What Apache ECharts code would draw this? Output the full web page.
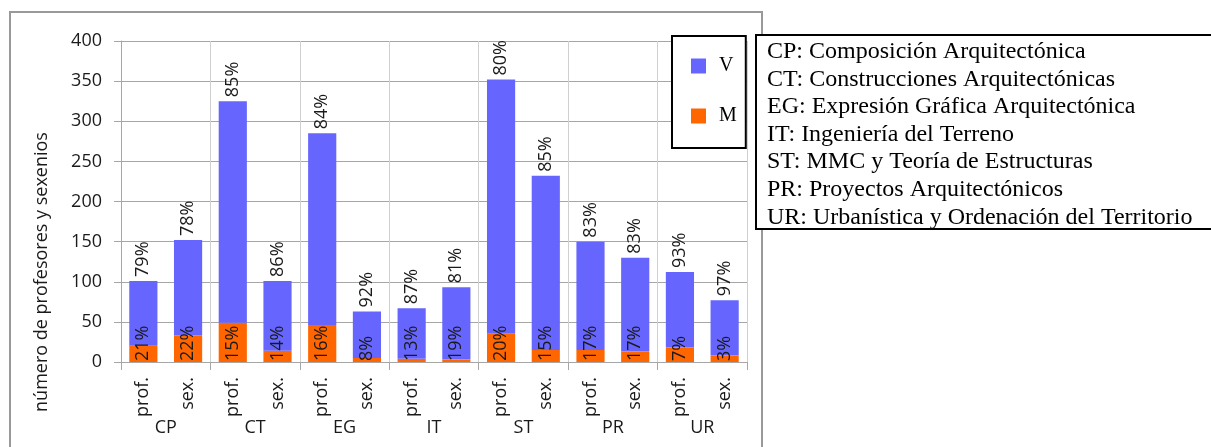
<!DOCTYPE html>
<html>
<head>
<meta charset="utf-8">
<script src="https://cdn.jsdelivr.net/npm/echarts@6/dist/echarts.min.js"></script>
<style>
  html, body { margin: 0; padding: 0; background: #fff; }
  #chart { width: 1211px; height: 447px; }
</style>
</head>
<body>
<div id="chart"></div>
<script>
// ---- data ----
const groups = ['CP', 'CT', 'EG', 'IT', 'ST', 'PR', 'UR'];
const subLabels = ['prof.', 'sex.', 'prof.', 'sex.', 'prof.', 'sex.', 'prof.', 'sex.', 'prof.', 'sex.', 'prof.', 'sex.', 'prof.', 'sex.'];
const valuesM = [21, 33, 49, 14, 46, 5, 4, 3, 36, 15, 15, 13, 18, 8];
const valuesV = [80, 119, 276, 87, 239, 58, 63, 90, 316, 217, 135, 117, 94, 69];
const pctV = ['79%', '78%', '85%', '86%', '84%', '92%', '87%', '81%', '80%', '85%', '83%', '83%', '93%', '97%'];
const pctM = ['21%', '22%', '15%', '14%', '16%', '8%', '13%', '19%', '20%', '15%', '17%', '17%', '7%', '3%'];
const yTicks = { min: 0, max: 400, interval: 50 };
const yTitle = 'número de profesores y sexenios';
const seriesNames = ['V', 'M'];
const glossary = [
  'CP: Composición Arquitectónica',
  'CT: Construcciones Arquitectónicas',
  'EG: Expresión Gráfica Arquitectónica',
  'IT: Ingeniería del Terreno',
  'ST: MMC y Teoría de Estructuras',
  'PR: Proyectos Arquitectónicos',
  'UR: Urbanística y Ordenación del Territorio'
];

// ---- styles ----
const SANS = '"Open Sans", "Noto Sans", sans-serif';
const SERIF = '"Liberation Serif", "DejaVu Serif", serif';
const COL_V = '#6666FF';
const COL_M = '#FF6600';
const GRID_H = '#a6a6a6';
const GRID_V = '#d0d0d0';
const TXT = '#1a1a1a';

const chart = echarts.init(document.getElementById('chart'), null, { renderer: 'canvas' });

const labelBase = {
  show: true,
  rotate: 90,
  align: 'left',
  verticalAlign: 'middle',
  fontFamily: SANS,
  fontSize: 18,
  color: TXT
};

chart.setOption({
  animation: false,
  backgroundColor: '#fff',
  grid: { left: 121, top: 41, right: 1211 - 747, bottom: 447 - 362, containLabel: false },
  legend: {
    data: ['V', 'M'],
    orient: 'vertical',
    left: 672,
    top: 36,
    padding: [20, 9, 22, 19],
    itemGap: 30,
    itemWidth: 15,
    itemHeight: 15,
    icon: 'rect',
    backgroundColor: '#fff',
    borderColor: '#000',
    borderWidth: 2,
    borderRadius: 0,
    textStyle: { fontFamily: SERIF, fontSize: 20, color: '#000', padding: [0, 0, 0, 8] }
  },
  xAxis: [
    {
      type: 'category',
      data: subLabels,
      position: 'bottom',
      axisLine: { show: true, lineStyle: { color: GRID_H, width: 1 } },
      axisTick: { show: false },
      splitLine: { show: false },
      axisLabel: {
        rotate: 90,
        interval: 0,
        margin: 15,
        fontFamily: SANS,
        fontSize: 18,
        color: TXT
      }
    },
    {
      type: 'category',
      data: groups,
      position: 'bottom',
      axisLine: { show: false },
      axisTick: { show: true, length: 8, lineStyle: { color: GRID_H } },
      splitLine: { show: true, lineStyle: { color: GRID_V, width: 1 } },
      axisLabel: {
        interval: 0,
        margin: 57,
        fontFamily: SANS,
        fontSize: 18,
        color: TXT
      }
    }
  ],
  yAxis: {
    type: 'value',
    min: yTicks.min,
    max: yTicks.max,
    interval: yTicks.interval,
    axisLine: { show: true, lineStyle: { color: GRID_H, width: 1 } },
    axisTick: { show: true, length: 7, lineStyle: { color: GRID_H } },
    splitLine: { show: true, lineStyle: { color: GRID_H, width: 1 } },
    axisLabel: { margin: 19, fontFamily: SANS, fontSize: 18, color: TXT }
  },
  series: [
    {
      name: seriesNames[1],
      type: 'bar',
      stack: 'total',
      xAxisIndex: 0,
      data: valuesM,
      barCategoryGap: '37%',
      itemStyle: { color: COL_M },
      label: Object.assign({}, labelBase, {
        position: 'insideBottom',
        distance: 1,
        formatter: p => pctM[p.dataIndex]
      })
    },
    {
      name: seriesNames[0],
      type: 'bar',
      stack: 'total',
      xAxisIndex: 0,
      data: valuesV,
      barCategoryGap: '37%',
      itemStyle: { color: COL_V },
      label: Object.assign({}, labelBase, {
        position: 'top',
        distance: 4,
        formatter: p => pctV[p.dataIndex]
      })
    }
  ],
  graphic: [
    {
      type: 'rect',
      z: -10,
      shape: { x: 10, y: 12, width: 752, height: 460 },
      style: { fill: 'none', stroke: '#999', lineWidth: 2 }
    },
    {
      type: 'text',
      x: 42,
      y: 272,
      rotation: Math.PI / 2,
      style: {
        text: yTitle,
        fontFamily: SANS,
        fontSize: 18,
        fill: TXT,
        textAlign: 'center',
        textVerticalAlign: 'middle'
      }
    },
    {
      type: 'rect',
      z: 20,
      shape: { x: 756, y: 35, width: 470, height: 194 },
      style: { fill: '#fff', stroke: '#000', lineWidth: 2 }
    },
    {
      type: 'text',
      z: 21,
      x: 767,
      y: 38,
      style: {
        text: glossary.join('\n'),
        fontFamily: SERIF,
        fontSize: 24,
        lineHeight: 27.6,
        fill: '#000',
        textAlign: 'left',
        textVerticalAlign: 'top'
      }
    }
  ]
});
</script>
</body>
</html>
